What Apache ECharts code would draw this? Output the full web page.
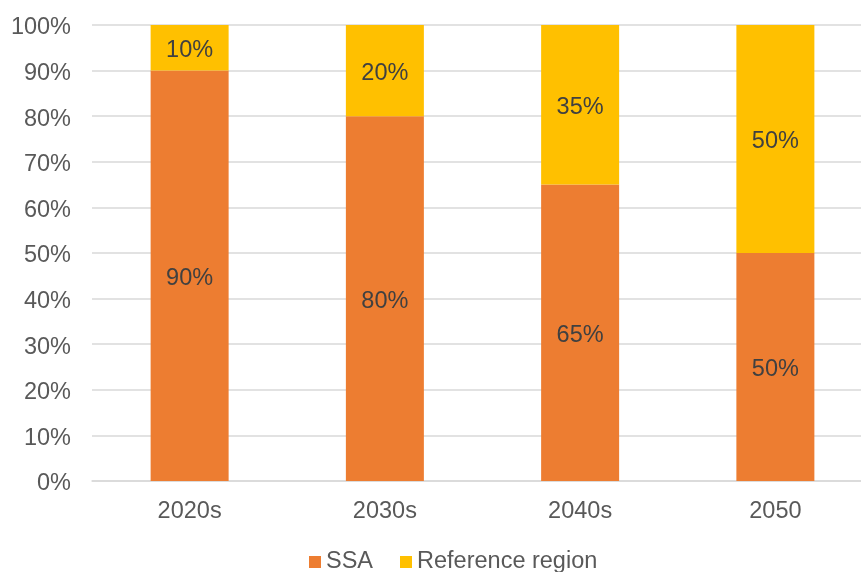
<!DOCTYPE html>
<html>
<head>
<meta charset="utf-8">
<script src="https://cdn.jsdelivr.net/npm/echarts@6/dist/echarts.min.js"></script>
<style>
  html, body { margin: 0; padding: 0; background: #fff; }
  #chart { width: 861px; height: 572px; }
</style>
</head>
<body>
<div id="chart"></div>
<script>
const categories = ['2020s', '2030s', '2040s', '2050']
const ssaValues = [90, 80, 65, 50]
const referenceValues = [10, 20, 35, 50]

const font = '"Liberation Sans", Arial, sans-serif'
const fs = 23.5

const chart = echarts.init(document.getElementById('chart'))

chart.setOption({
  animation: false,
  textStyle: { fontFamily: font },
  legend: {
    bottom: -7,
    left: 304,
    itemWidth: 12,
    itemHeight: 12,
    itemGap: 27,
    icon: 'rect',
    textStyle: { fontSize: fs, color: '#595959', fontFamily: font },
    data: ['SSA', 'Reference region']
  },
  grid: {
    left: 92,
    top: 25,
    right: -12,
    bottom: 91,
    outerBoundsMode: 'none',
    containLabel: false
  },
  xAxis: {
    type: 'category',
    data: categories,
    axisTick: { show: false },
    axisLine: { lineStyle: { color: '#d9d9d9', width: 1.5 } },
    axisLabel: { fontSize: fs, color: '#595959', margin: 19, fontFamily: font }
  },
  yAxis: {
    type: 'value',
    min: 0,
    max: 100,
    interval: 10,
    axisLabel: {
      formatter: '{value}%',
      fontSize: fs,
      color: '#595959',
      margin: 21,
      verticalAlign: 'top',
      lineHeight: 6,
      fontFamily: font
    },
    splitLine: { lineStyle: { color: '#d9d9d9', width: 1.5 } },
    axisLine: { show: false },
    axisTick: { show: false }
  },
  series: [
    {
      name: 'SSA',
      type: 'bar',
      stack: 'total',
      barWidth: 78,
      data: ssaValues,
      itemStyle: { color: '#ED7D31' },
      label: { show: true, position: 'inside', offset: [0, 3], formatter: '{c}%', fontSize: fs, color: '#404040', fontFamily: font }
    },
    {
      name: 'Reference region',
      type: 'bar',
      stack: 'total',
      barWidth: 78,
      data: referenceValues,
      itemStyle: { color: '#FFC000' },
      label: { show: true, position: 'inside', offset: [0, 3], formatter: '{c}%', fontSize: fs, color: '#404040', fontFamily: font }
    }
  ]
})
</script>
</body>
</html>
